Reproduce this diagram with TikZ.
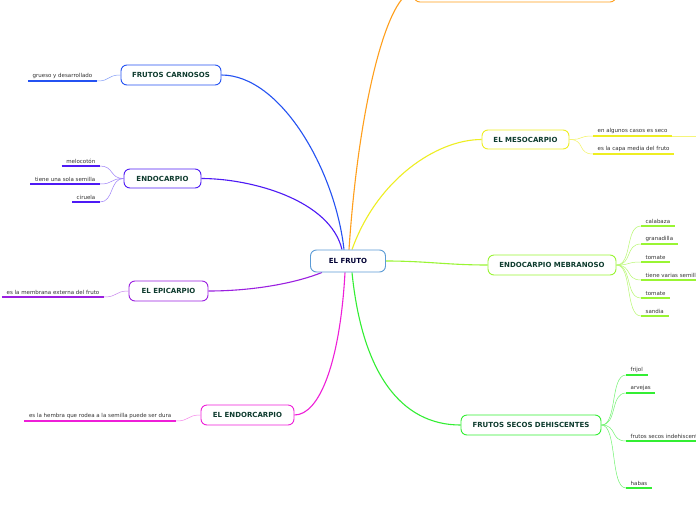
\documentclass[tikz,border=0pt]{standalone}
\usepackage{fontspec}
\setmainfont{DejaVu Sans}
\usetikzlibrary{backgrounds}
\definecolor{rootcol}{HTML}{5B9BD5}
\definecolor{carncol}{HTML}{2452F2}
\definecolor{endocol}{HTML}{4E1AF5}
\definecolor{epicol}{HTML}{9B1FE0}
\definecolor{endrcol}{HTML}{EE1FD8}
\definecolor{orancol}{HTML}{FF9F1C}
\definecolor{mesocol}{HTML}{EEEE22}
\definecolor{membcol}{HTML}{99F533}
\definecolor{secocol}{HTML}{33EE33}
\definecolor{boxtext}{HTML}{0E3B2E}
\definecolor{leaftext}{HTML}{333333}
\tikzset{tbox/.style={
    rectangle,
    draw,
    fill=white,
    rounded corners=6pt,
    line width=0.9pt,
    align=center,
    minimum height=20pt,
    text=boxtext,
    font=\bfseries\fontsize{7}{8}\selectfont
  },
  rootbox/.style={tbox,draw=rootcol,minimum height=22pt,text=black!80!blue},
  leafnode/.style={
    inner xsep=4.5pt,
    inner ysep=1.8pt,
    text=leaftext,
    font=\fontsize{5.5}{6.5}\selectfont
  },
  rleaf/.style={leafnode,anchor=south west},
  lleaf/.style={leafnode,anchor=south east},
  conn/.style={line width=1.1pt},
  twig/.style={line width=0.5pt},
  uline/.style={line width=1.4pt},
}
\begin{document}
\begin{tikzpicture}[x=1pt,y=-1pt]
  \useasboundingbox (0,0) rectangle (696,520);
  \clip (0,0) rectangle (696,520);
  % main topics
  \node [rootbox,minimum width=75] (root) at (348,261) {EL FRUTO};
  \node [tbox,draw=carncol,minimum width=100] (carn) at (171,75) {FRUTOS CARNOSOS};
  \node [tbox,draw=endocol,minimum width=77,minimum height=19] (endo) at (162.5,178.5) {ENDOCARPIO};
  \node [tbox,draw=epicol,minimum width=79] (epi) at (168.5,291) {EL EPICARPIO};
  \node [tbox,draw=endrcol,minimum width=93] (endr) at (247.5,415) {EL ENDORCARPIO};
  \node [tbox,draw=orancol,minimum width=202] (oran) at (515,-8) {};
  \node [tbox,draw=mesocol,minimum width=87,minimum height=19] (meso) at (525.5,139.5) {EL MESOCARPIO};
  \node [tbox,draw=membcol,minimum width=128] (memb) at (552,265) {ENDOCARPIO MEBRANOSO};
  \node [tbox,draw=secocol,minimum width=140] (seco) at (531,425) {FRUTOS SECOS DEHISCENTES};

  % leaves, left side
  \node [lleaf] (grueso) at (97,81) {grueso y desarrollado};
  \node [lleaf] (meloc) at (100,166) {melocotón};
  \node [lleaf] (unasem) at (100,184) {tiene una sola semilla};
  \node [lleaf] (cirue) at (100,202) {ciruela};
  \node [lleaf] (membr) at (104,297) {es la membrana externa del fruto};
  \node [lleaf] (hembr) at (176,421) {es la hembra que rodea a la semilla puede ser dura};
  % leaves, right side
  \node [rleaf] (seco1) at (593,136) {en algunos casos es seco};
  \node [rleaf] (capa) at (593,154) {es la capa media del fruto};
  \node [rleaf] (calab) at (641,226) {calabaza};
  \node [rleaf] (grana) at (641,244) {granadilla};
  \node [rleaf] (tomA) at (641,262) {tomate};
  \node [rleaf] (varsem) at (641,280) {tiene varias semillas};
  \node [rleaf] (tomB) at (641,298) {tomate};
  \node [rleaf] (sandi) at (641,316) {sandia};
  \node [rleaf] (frijo) at (626,375) {frijol};
  \node [rleaf] (arvej) at (626,393) {arvejas};
  \node [rleaf] (indeh) at (626,441) {frutos secos indehiscentes};
  \node [rleaf] (habas) at (626,488) {habas};
  \coordinate (sececo) at (720,136);

  \begin{scope}[on background layer]
  \fill[white] (0,0) rectangle (696,520);
  % connectors from the root
  \draw[conn,orancol] ([xshift=1pt]root.north) .. controls +(10,-150) and +(-25,0) .. (oran.west);
  \draw[conn,carncol] ([xshift=-4pt]root.north) .. controls +(-9,-80) and +(59,0) .. (carn.east);
  \draw[conn,endocol] ([xshift=-6pt]root.north) .. controls +(-12,-50) and +(49,0) .. (endo.east);
  \draw[conn,mesocol] ([xshift=4pt]root.north) .. controls +(25,-70) and +(-45,0) .. (meso.west);
  \draw[conn,epicol] ([xshift=-26pt]root.south) .. controls +(-30,12) and +(40,0) .. (epi.east);
  \draw[conn,endrcol] ([xshift=-3pt]root.south) .. controls +(-5,90) and +(25,0) .. (endr.east);
  \draw[conn,secocol] ([xshift=4pt]root.south) .. controls +(10,100) and +(-60,0) .. (seco.west);
  \draw[conn,membcol] (root.east) .. controls +(40,0) and +(-40,0) .. (memb.west);
  \end{scope}

  % twigs and underlines, left
  \foreach \p/\l/\c in {carn/grueso/carncol,endo/meloc/endocol,endo/unasem/endocol,
      endo/cirue/endocol,epi/membr/epicol,endr/hembr/endrcol} {
    \draw[twig,\c!55] (\p.west) .. controls +(-14,0) and +(14,0) .. (\l.south east);
    \draw[uline,\c] (\l.south west) -- (\l.south east);
  }
  % twigs and underlines, right
  \foreach \p/\l/\c in {meso/seco1/mesocol,meso/capa/mesocol,memb/calab/membcol,
      memb/grana/membcol,memb/tomA/membcol,memb/varsem/membcol,memb/tomB/membcol,
      memb/sandi/membcol,seco/frijo/secocol,seco/arvej/secocol,seco/indeh/secocol,
      seco/habas/secocol} {
    \draw[twig,\c!70] (\p.east) .. controls +(16,0) and +(-16,0) .. (\l.south west);
    \draw[uline,\c] (\l.south west) -- (\l.south east);
  }
  \draw[twig,mesocol!60] (seco1.south east) -- (sececo);
\end{tikzpicture}
\end{document}
